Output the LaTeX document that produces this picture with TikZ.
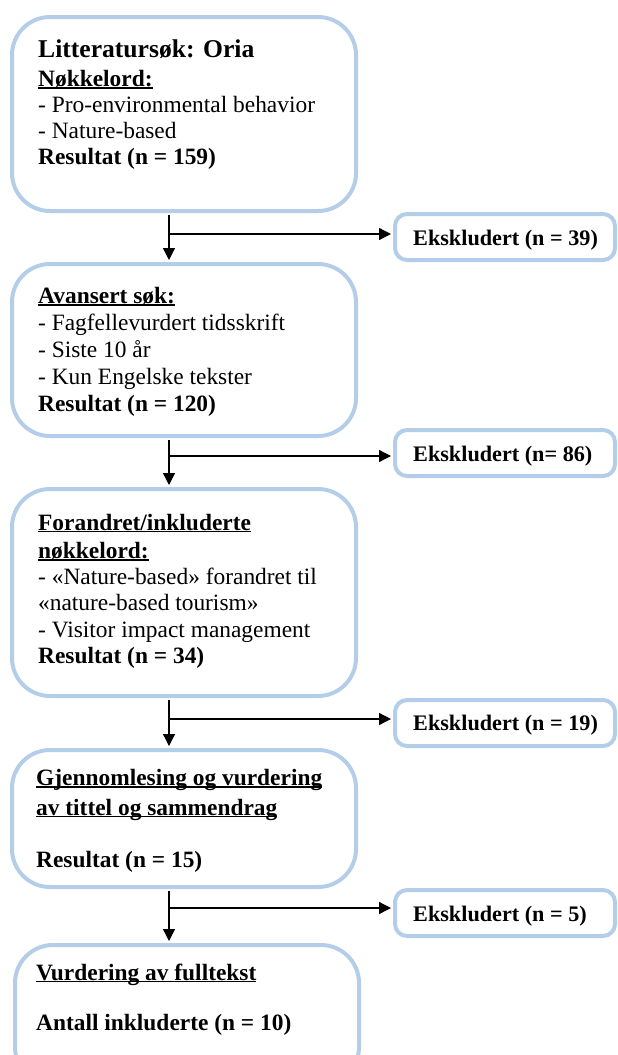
\documentclass[tikz,border=0pt]{standalone}
\usepackage{fontspec}
\setmainfont{Liberation Serif}
\usetikzlibrary{arrows.meta}
\definecolor{boxblue}{RGB}{180,206,234}
\newcommand\wul[1]{\setbox0=\hbox{#1}\rlap{\rule[-2.3pt]{\wd0}{1.5pt}}\box0}
\begin{document}
\begin{tikzpicture}[x=1pt,y=-1pt,
  bigbox/.style={draw=boxblue, line width=4pt, rounded corners=38pt, inner sep=0pt},
  smallbox/.style={draw=boxblue, line width=4pt, rounded corners=12pt, inner sep=0pt, minimum width=220pt, minimum height=46pt},
  txt/.style={anchor=base west, inner sep=0pt, font=\fontsize{23.4}{28}\selectfont},
  btxt/.style={anchor=base west, inner sep=0pt, font=\fontsize{23.4}{28}\selectfont\bfseries},
  ttl/.style={anchor=base west, inner sep=0pt, font=\fontsize{25.6}{30}\selectfont\bfseries},
  etxt/.style={anchor=base west, inner sep=0pt, font=\fontsize{22.2}{26}\selectfont\bfseries},
  arr/.style={-{Triangle[length=12pt,width=12pt]}, line width=1.3pt, draw=black, shorten >=2pt, shorten <=2pt}]
\clip (0,0) rectangle (618,1055);
% main boxes
\node[bigbox, minimum width=344pt, minimum height=194pt] (b1) at (184,114) {};
\node[bigbox, minimum width=344pt, minimum height=172pt] (b2) at (184,350) {};
\node[bigbox, minimum width=344pt, minimum height=207pt] (b3) at (184,592.5) {};
\node[bigbox, minimum width=344pt, minimum height=137pt] (b4) at (184,818.5) {};
\node[bigbox, minimum width=344pt, minimum height=140pt] (b5) at (187,1015) {};
% exclusion boxes
\node[smallbox] (e1) at (505,237) {};
\node[smallbox] (e2) at (505,453) {};
\node[smallbox] (e3) at (505,723) {};
\node[smallbox] (e4) at (505,913) {};
% connectors
\coordinate (ax) at (169,0);
\coordinate (h1) at (169,234);
\coordinate (h2) at (169,456);
\coordinate (h3) at (169,719);
\coordinate (h4) at (169,908);
\draw[arr] (b1.south -| ax) -- (b2.north -| ax);
\draw[arr] (b2.south -| ax) -- (b3.north -| ax);
\draw[arr] (b3.south -| ax) -- (b4.north -| ax);
\draw[arr] (b4.south -| ax) -- (b5.north -| ax);
\draw[arr, shorten <=0pt] (h1) -- (e1.west |- h1);
\draw[arr, shorten <=0pt] (h2) -- (e2.west |- h2);
\draw[arr, shorten <=0pt] (h3) -- (e3.west |- h3);
\draw[arr, shorten <=0pt] (h4) -- (e4.west |- h4);
% box 1 text
\node[ttl]  (t1a) at (38,57.5) {Litteratursøk: Oria};
\node[btxt] (t1b) at (38,86.5) {\wul{Nøkkelord:}};
\node[txt]  (t1c) at (38,112.5) {- Pro-environmental behavior};
\node[txt]  (t1d) at (38,138) {- Nature-based};
\node[btxt] (t1e) at (38,164.5) {Resultat (n = 159)};
% box 2 text
\node[btxt] (t2a) at (38,303.5) {\wul{Avansert søk:}};
\node[txt]  (t2b) at (38,330.5) {- Fagfellevurdert tidsskrift};
\node[txt]  (t2c) at (38,357) {- Siste 10 år};
\node[txt]  (t2d) at (38,384) {- Kun Engelske tekster};
\node[btxt] (t2e) at (38,411.5) {Resultat (n = 120)};
% box 3 text
\node[btxt] (t3a) at (38,530) {\wul{Forandret/inkluderte}};
\node[btxt] (t3b) at (38,558.5) {\wul{nøkkelord:}};
\node[txt]  (t3c) at (38,584.5) {- «Nature-based» forandret til};
\node[txt]  (t3d) at (38,610.5) {«nature-based tourism»};
\node[txt]  (t3e) at (38,637) {- Visitor impact management};
\node[btxt] (t3f) at (38,663.5) {Resultat (n = 34)};
% box 4 text
\node[btxt] (t4a) at (36,785.5) {\wul{Gjennomlesing og vurdering}};
\node[btxt] (t4b) at (36,815) {\wul{av tittel og sammendrag}};
\node[btxt] (t4c) at (36,867) {Resultat (n = 15)};
% box 5 text
\node[btxt] (t5a) at (36,980) {\wul{Vurdering av fulltekst}};
\node[btxt] (t5b) at (36,1030) {Antall inkluderte (n = 10)};
% exclusion texts
\node[etxt] (x1) at (413,245) {Ekskludert (n = 39)};
\node[etxt] (x2) at (413,461) {Ekskludert (n= 86)};
\node[etxt] (x3) at (413,730.5) {Ekskludert (n = 19)};
\node[etxt] (x4) at (413,921) {Ekskludert (n = 5)};
\end{tikzpicture}
\end{document}
